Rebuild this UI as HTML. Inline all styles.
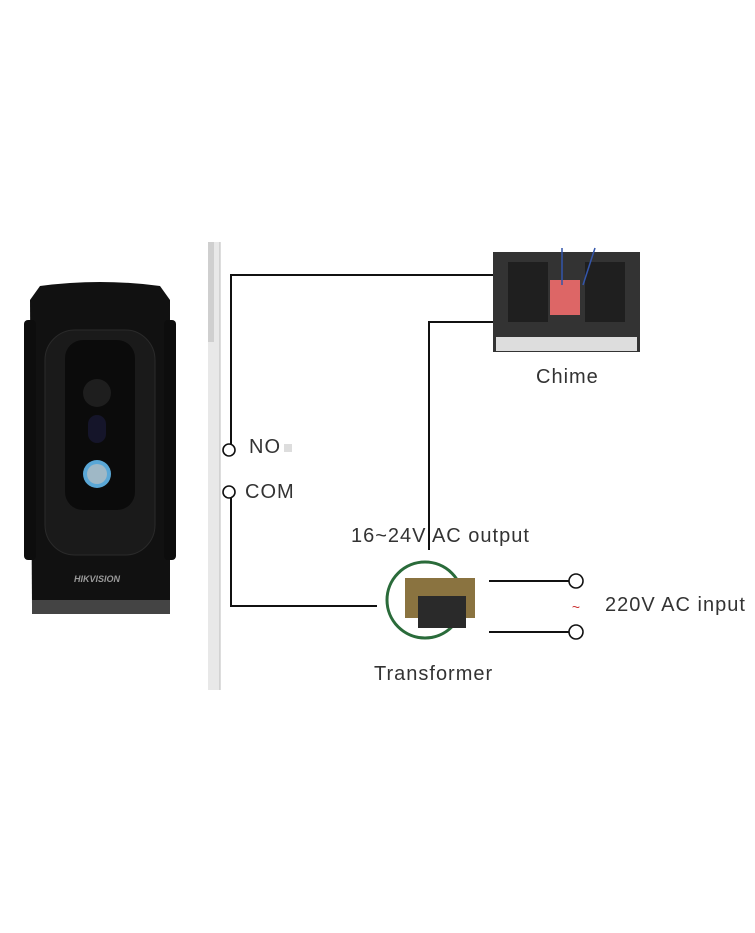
<!DOCTYPE html>
<html><head><style>
body{margin:0;background:#fff;}
.t{position:absolute;font-family:"Liberation Sans",sans-serif;color:#333;white-space:nowrap;font-size:20px;letter-spacing:1px;}
</style></head><body>
<div style="position:relative;width:755px;height:933px;overflow:hidden;">
<svg width="755" height="933" style="position:absolute;left:0;top:0">
<rect x="208" y="242" width="12" height="448" fill="#e8e8e8"/>
<rect x="208" y="242" width="6" height="100" fill="#cfcfcf"/>
<line x1="220" y1="242" x2="220" y2="690" stroke="#bbb" stroke-width="1"/>
<path d="M40 286 Q100 278 160 286 L170 300 L170 605 Q100 616 32 605 L30 300 Z" fill="#111"/>
<rect x="24" y="320" width="12" height="240" rx="4" fill="#0d0d0d"/>
<rect x="164" y="320" width="12" height="240" rx="4" fill="#0d0d0d"/>
<rect x="45" y="330" width="110" height="225" rx="30" fill="#1a1a1a" stroke="#2a2a2a"/>
<rect x="65" y="340" width="70" height="170" rx="18" fill="#0b0b0b"/>
<circle cx="97" cy="393" r="14" fill="#1e1e1e"/>
<rect x="88" y="415" width="18" height="28" rx="9" fill="#15152a"/>
<circle cx="97" cy="474" r="14" fill="#5aa7d6"/>
<circle cx="97" cy="474" r="10" fill="#9fb8c6"/>
<rect x="32" y="600" width="138" height="14" fill="#444"/>
<text x="97" y="582" font-family="Liberation Sans" font-size="9" font-weight="bold" font-style="italic" fill="#999" text-anchor="middle">HIKVISION</text>
<g stroke="#111" stroke-width="2" fill="none">
<polyline points="231,450 231,275 494,275"/>
<polyline points="231,492 231,606 377,606"/>
<polyline points="494,322 429,322 429,550"/>
<line x1="489" y1="581" x2="569" y2="581"/>
<line x1="489" y1="632" x2="569" y2="632"/>
</g>
<g stroke="#111" stroke-width="1.6" fill="#fff">
<circle cx="229" cy="450" r="6"/>
<circle cx="229" cy="492" r="6"/>
<circle cx="576" cy="581" r="7"/>
<circle cx="576" cy="632" r="7"/>
</g>
<rect x="284" y="444" width="8" height="8" fill="#ddd"/>
<rect x="493" y="252" width="147" height="100" fill="#333"/>
<rect x="508" y="262" width="40" height="60" fill="#1f1f1f"/>
<rect x="585" y="262" width="40" height="60" fill="#1f1f1f"/>
<rect x="550" y="280" width="30" height="35" fill="#d66"/>
<rect x="496" y="337" width="141" height="14" fill="#ddd"/>
<line x1="562" y1="248" x2="562" y2="285" stroke="#35a" stroke-width="1.5"/>
<line x1="595" y1="248" x2="583" y2="285" stroke="#35a" stroke-width="1.5"/>
<ellipse cx="425" cy="600" rx="38" ry="38" fill="none" stroke="#2a6b3a" stroke-width="3"/>
<rect x="405" y="578" width="70" height="40" fill="#8a7340"/>
<rect x="418" y="596" width="48" height="32" fill="#2a2a2a"/>
<text x="576" y="612" font-family="Liberation Sans" font-size="14" fill="#c33" text-anchor="middle">~</text>
</svg>
<div class="t" style="left:249px;top:436px;">NO</div>
<div class="t" style="left:245px;top:481px;">COM</div>
<div class="t" style="left:536px;top:366px;">Chime</div>
<div class="t" style="left:351px;top:525px;">16~24V AC output</div>
<div class="t" style="left:605px;top:594px;">220V AC input</div>
<div class="t" style="left:374px;top:663px;">Transformer</div>
</div>
</body></html>
